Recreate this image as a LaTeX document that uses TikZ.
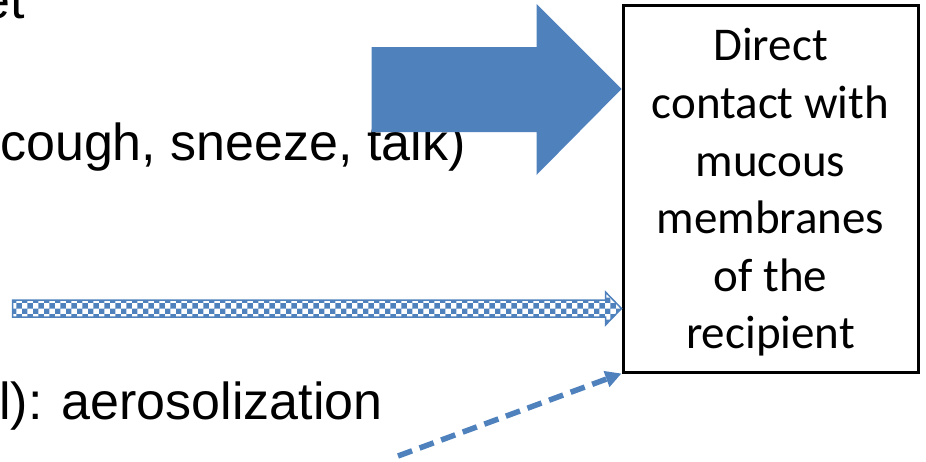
\documentclass[tikz,border=0pt]{standalone}
\usepackage{fontspec}
\setmainfont{Liberation Sans}
\newfontfamily\boxfont{Carlito}
\usetikzlibrary{patterns,arrows.meta}
\definecolor{officeblue}{RGB}{79,129,189}

\begin{document}
\begin{tikzpicture}[x=1pt,y=-1pt]
		\useasboundingbox (0,0) rectangle (926,461);
		\clip (0,0) rectangle (926,461);
		\tikzset{
			slide/.style={anchor=base west,inner sep=0pt,font=\fontsize{52}{62}\selectfont},
			contactbox/.style={draw,line width=3pt,minimum width=295pt,minimum height=367pt,inner sep=0pt},
			boxtext/.style={align=center,inner sep=0pt,yshift=-4pt,font=\boxfont\fontsize{47}{57.6}\selectfont}
		}
		\node[slide,anchor=base east] (word) at (25,18) {et};
		\node[slide] (spread) at (0,160) {cough, sneeze, talk)};
		\node[slide] (aerosol) at (-1,419) {l): aerosolization};
		\node[contactbox,label={[boxtext]center:{Direct\\contact with\\mucous\\membranes\\of the\\recipient}}] (contact) at (770.5,188.5) {};
		% big arrow
		\coordinate (bigrow) at (0,89);
		\coordinate (bigtip) at (contact.west |- bigrow);
		\fill[officeblue] (bigtip) -- ++(-85,-85) -- ++(0,43) -- ++(-165,0) -- ++(0,85) -- ++(165,0) -- ++(0,43) -- cycle;
		% hatched arrow
		\coordinate (hatchrow) at (0,308.5);
		\coordinate (hatchtip) at (contact.west |- hatchrow);
		\draw[officeblue,line width=1.5pt,pattern=checkerboard,pattern color=officeblue] (hatchtip) -- ++(-16,-16.5) -- ++(0,8) -- ++(-593,0) -- ++(0,17) -- ++(593,0) -- ++(0,8) -- cycle;
		% dashed arrow
		\coordinate (dashtail) at (398,456);
		\draw[officeblue,line width=5.5pt,dash pattern=on 15pt off 8pt,-{Triangle[length=16pt,width=16pt]}] (dashtail) -- (contact.south west);
	\end{tikzpicture}
\end{document}
